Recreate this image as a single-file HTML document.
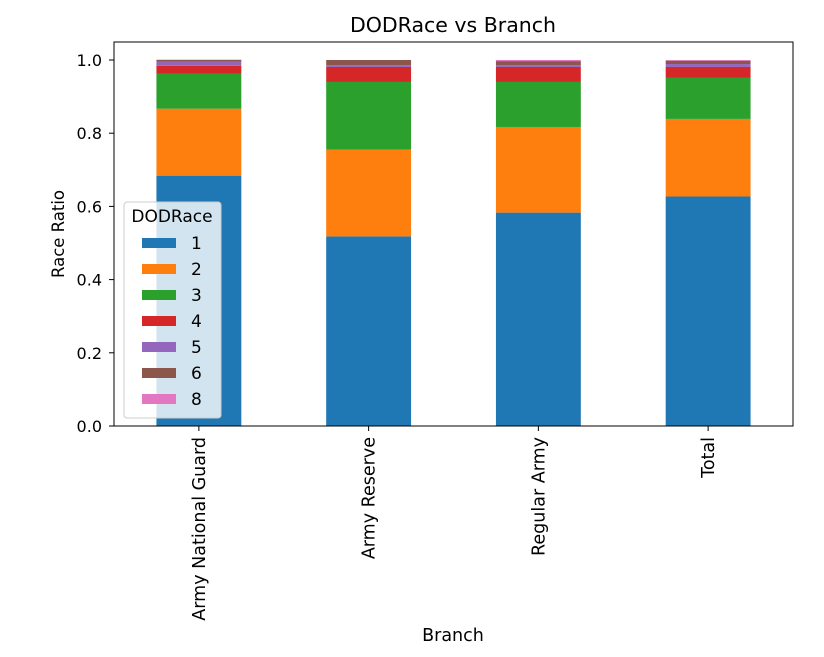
<!DOCTYPE html>
<html><head><meta charset="utf-8"><style>
body{margin:0;background:#fff;}
svg{display:block;font-family:"DejaVu Sans","Liberation Sans",sans-serif;}
</style></head><body>
<svg id="chart" width="824" height="657" xmlns="http://www.w3.org/2000/svg"></svg>
<script>
const categories = ["Army National Guard","Army Reserve","Regular Army","Total"];
const seriesNames = ["1","2","3","4","5","6","8"];
const s1 = [0.684,0.518,0.583,0.627];
const s2 = [0.183,0.237,0.234,0.212];
const s3 = [0.095,0.185,0.123,0.112];
const s4 = [0.022,0.041,0.041,0.030];
const s5 = [0.011,0.005,0.005,0.008];
const s6 = [0.005,0.014,0.011,0.009];
const s8 = [0.001,0.000,0.003,0.002];
const yTicks = [0,0.2,0.4,0.6,0.8,1.0];
const yTickLabels = ["0.0","0.2","0.4","0.6","0.8","1.0"];
const series = [s1,s2,s3,s4,s5,s6,s8];
const colors = ["#1f77b4","#ff7f0e","#2ca02c","#d62728","#9467bd","#8c564b","#e377c2"];
const NS="http://www.w3.org/2000/svg";
const svg=document.getElementById('chart');
const L=114,R=793,T=42,B=426;
const y=v=>B-v*(B-60)/1.0;
const x=i=>L+(i+0.5)*(R-L)/categories.length;
const bw=0.5*(R-L)/categories.length;
function mk(tag,a,txt){const e=document.createElementNS(NS,tag);for(const k in a)e.setAttribute(k,a[k]);if(txt!==undefined)e.textContent=txt;svg.appendChild(e);return e;}
let e;
e=mk('text',{x:453,y:32,'text-anchor':'middle','font-size':20.5,fill:'#000'},'DODRace vs Branch');


const base=[0,0,0,0];
series.forEach((s,si)=>{s.forEach((v,i)=>{
 e=mk('rect',{x:x(i)-bw/2,y:y(base[i]+v),width:bw,height:y(base[i])-y(base[i]+v),fill:colors[si]});
 
 
 base[i]+=v;});});
e=mk('rect',{x:L,y:T,width:R-L,height:B-T,fill:'none',stroke:'#000','stroke-width':1});


yTicks.forEach((t,i)=>{
 e=mk('line',{x1:L-5,x2:L,y1:y(t),y2:y(t),stroke:'#000'});
 
 
 e=mk('text',{x:L-12,y:y(t)+6,'text-anchor':'end','font-size':16},yTickLabels[i]);
 
 
});
categories.forEach((c,i)=>{
 e=mk('line',{x1:x(i),x2:x(i),y1:B,y2:B+5,stroke:'#000'});
 
 
 e=mk('text',{x:0,y:0,'text-anchor':'end','font-size':17.5,transform:`translate(${x(i)+6},${B+11}) rotate(-90)`},c);
 
 
});
e=mk('text',{x:453,y:641,'text-anchor':'middle','font-size':17.5},'Branch');


e=mk('text',{x:0,y:0,'text-anchor':'middle','font-size':16.5,transform:`translate(64,234) rotate(-90)`},'Race Ratio');


e=mk('rect',{x:124,y:202,width:97,height:216,rx:3,fill:'#fff','fill-opacity':0.8,stroke:'#ccc'});


e=mk('text',{x:172,y:222,'text-anchor':'middle','font-size':17},'DODRace');


seriesNames.forEach((n,i)=>{
 const cy=243+i*26;
 e=mk('rect',{x:142,y:cy-5,width:34,height:10,fill:colors[i]});
 
 
 e=mk('text',{x:191,y:cy+6,'font-size':17},n);
 
 
});
</script>
</body></html>
